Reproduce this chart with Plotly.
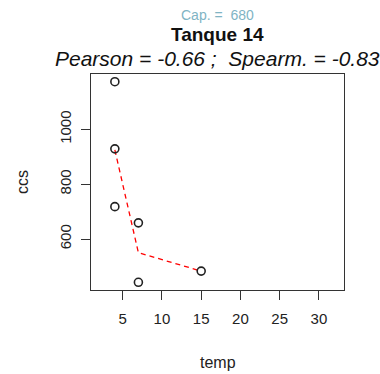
import plotly.graph_objects as go

# Observations for tank 14
temp = [4, 4, 4, 7, 7, 15]
ccs = [1174, 929, 718, 659, 442, 483]

# Smoothed trend evaluated at the distinct temperatures
fit_temp = [4, 7, 15]
fit_ccs = [925, 550, 483]

cap_text = "Cap. =  680"
title_text = "Tanque 14"
corr_text = "Pearson = -0.66 ;  Spearm. = -0.83"

x_ticks = [5, 10, 15, 20, 25, 30]
y_ticks = [600, 800, 1000]

FONT = "Liberation Sans, Arial, sans-serif"

# plot-area geometry in pixels (used to place the text labels)
PLOT_LEFT, PLOT_TOP, PLOT_W, PLOT_H = 91, 74, 253, 216

fig = go.Figure()
fig.add_trace(go.Scatter(
    x=fit_temp, y=fit_ccs, mode="lines",
    line=dict(color="#ff0000", width=1.3, dash="5px,4px"),
    hoverinfo="skip",
))
fig.add_trace(go.Scatter(
    x=temp, y=ccs, mode="markers",
    marker=dict(symbol="circle-open", size=8, color="#222222", line=dict(width=1.6)),
))

axis_common = dict(
    showline=True, mirror=True, linecolor="#333333", linewidth=1.3,
    ticks="outside", ticklen=9, tickwidth=1.3, tickcolor="#333333",
    showgrid=False, zeroline=False,
    tickfont=dict(family=FONT, size=15, color="#222222"),
)

fig.update_xaxes(range=[0.96, 33.2], tickvals=x_ticks, ticklabelstandoff=6, **axis_common)
fig.update_yaxes(range=[414, 1202], tickvals=y_ticks, tickangle=-90, ticklabelstandoff=4, **axis_common)


def paper_y(ypix):
    return 1 + (PLOT_TOP - ypix) / PLOT_H


def paper_x(xpix):
    return (xpix - PLOT_LEFT) / PLOT_W


def top_label(text, ypix, size, color="#111111", bold=False, italic=False):
    t = text
    if bold:
        t = "<b>" + t + "</b>"
    if italic:
        t = "<i>" + t + "</i>"
    fig.add_annotation(text=t, x=0.5, xref="paper", y=paper_y(ypix), yref="paper",
                       xanchor="center", yanchor="middle", showarrow=False,
                       font=dict(family=FONT, size=size, color=color))


top_label(cap_text, 15, 14, color="#80b4c4")
top_label(title_text, 35, 19, bold=True)
top_label(corr_text, 58, 21, italic=True)

# axis titles
fig.add_annotation(text="temp", x=0.5, xref="paper", y=paper_y(362), yref="paper",
                   xanchor="center", yanchor="middle", showarrow=False,
                   font=dict(family=FONT, size=16, color="#222222"))
fig.add_annotation(text="ccs", x=paper_x(22), xref="paper", y=paper_y(182), yref="paper",
                   xanchor="center", yanchor="middle", showarrow=False, textangle=-90,
                   font=dict(family=FONT, size=16, color="#222222"))

fig.update_layout(
    width=380, height=374,
    margin=dict(l=91, r=36, t=74, b=84),
    paper_bgcolor="white", plot_bgcolor="white",
    showlegend=False,
)

fig.write_html("out.html")
